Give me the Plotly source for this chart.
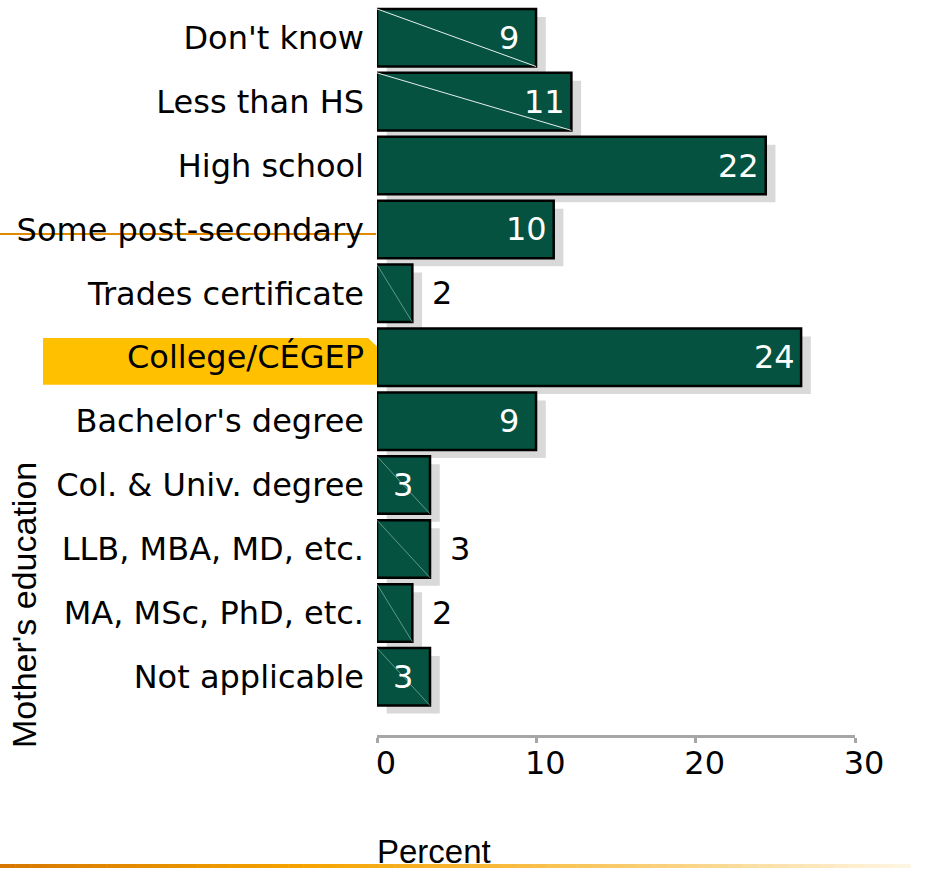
import plotly.graph_objects as go

# Mother's education distribution (percent of respondents)
categories = [
    "Don't know", "Less than HS", "High school", "Some post-secondary",
    "Trades certificate", "College/CÉGEP", "Bachelor's degree",
    "Col. & Univ. degree", "LLB, MBA, MD, etc.", "MA, MSc, PhD, etc.",
    "Not applicable",
]
percent = [9, 11, 22, 10, 2, 24, 9, 3, 3, 2, 3]
axis_ticks = [0, 10, 20, 30]
highlight = "College/CÉGEP"

# per-bar styling: where the value label sits, and the thin diagonal sheen
label_outside = [False, False, False, False, True, False, False, False, True, True, False]
diag_style = ["strong", "strong", None, None, "faint", None, None, "faint", "faint", "faint", "faint"]

BAR = "#055241"
SHADOW = "#d9d9d9"
FONT = "DejaVu Sans"
ARIAL = "Liberation Sans"

W, H = 928, 869
L, R, T, B = 377, 73, 0, 134
plot_w = W - L - R
plot_h = H - T - B

pos = list(range(len(categories)))
bar_range = [0, 27.05]

fig = go.Figure()

# drop shadow behind each bar
fig.add_trace(go.Bar(
    y=[p + 0.125 for p in pos], x=percent, base=0.55, orientation="h",
    width=0.9, marker=dict(color=SHADOW, line=dict(width=0)),
    hoverinfo="skip", showlegend=False,
))
# main bars
fig.add_trace(go.Bar(
    y=pos, x=percent, orientation="h", width=0.9,
    marker=dict(color=BAR, line=dict(color="black", width=2.5)),
    showlegend=False, name="Percent",
))

# diagonal sheen lines across some bars
for style, level in (("strong", "rgba(255,255,255,0.9)"), ("faint", "rgba(170,210,200,0.55)")):
    xs, ys = [], []
    for p, v, d in zip(pos, percent, diag_style):
        if d == style:
            xs += [0, v, None]
            ys += [p - 0.45, p + 0.45, None]
    fig.add_trace(go.Scatter(
        x=xs, y=ys, mode="lines", line=dict(color=level, width=1),
        hoverinfo="skip", showlegend=False,
    ))

# invisible trace that carries the visible percent axis
fig.add_trace(go.Scatter(x=[axis_ticks[0], axis_ticks[-1]], y=[0, 0], xaxis="x2",
                         mode="markers", marker=dict(opacity=0), hoverinfo="skip",
                         showlegend=False))

annotations = []
for p, v, out in zip(pos, percent, label_outside):
    annotations.append(dict(
        x=v, y=p, xref="x", yref="y", text=str(v), showarrow=False,
        xanchor="center", yanchor="middle", xshift=30 if out else -27,
        font=dict(family=FONT, size=32, color="black" if out else "white"),
    ))

def px_x(px):
    return (px - L) / plot_w

def px_y(py):
    return (H - B - py) / plot_h

annotations.append(dict(
    x=px_x(24), y=px_y(605), xref="paper", yref="paper", text="Mother's education",
    textangle=-90, showarrow=False, xanchor="center", yanchor="middle",
    font=dict(family=ARIAL, size=34, color="black"),
))
annotations.append(dict(
    x=px_x(434), y=px_y(852), xref="paper", yref="paper", text="Percent",
    showarrow=False, xanchor="center", yanchor="middle",
    font=dict(family=ARIAL, size=33, color="black"),
))

shapes = []
# highlight tab behind the selected category
hi = categories.index(highlight)
x0, x1, xc = px_x(43), px_x(377), px_x(368)
y_top, y_bot = hi - 0.30, hi + 0.43
shapes.append(dict(
    type="path", xref="paper", yref="y", layer="below",
    path=f"M {x0},{y_top} L {xc},{y_top} L {x1},{y_top + 0.13} L {x1},{y_bot} L {x0},{y_bot} Z",
    fillcolor="#FFC000", line=dict(width=0),
))
# orange rule on the left
shapes.append(dict(
    type="line", xref="paper", yref="paper", layer="below",
    x0=px_x(0), x1=px_x(376), y0=px_y(234), y1=px_y(234),
    line=dict(color="#E08A00", width=2),
))
# fading rule along the bottom
stops = [(0, (214, 120, 0)), (300, (245, 163, 0)), (500, (248, 186, 60)),
         (700, (250, 214, 140)), (910, (254, 246, 228))]
n = 60
for k in range(n):
    a = 910 * k / n
    b = 910 * (k + 1) / n
    m = (a + b) / 2
    for (s0, c0), (s1, c1) in zip(stops[:-1], stops[1:]):
        if s0 <= m <= s1:
            t = (m - s0) / (s1 - s0)
            c = tuple(round(c0[i] + (c1[i] - c0[i]) * t) for i in range(3))
            break
    shapes.append(dict(
        type="line", xref="paper", yref="paper",
        x0=px_x(a), x1=px_x(b + 0.5), y0=px_y(866), y1=px_y(866),
        line=dict(color=f"rgb{c}", width=4),
    ))

fig.update_layout(
    width=W, height=H,
    margin=dict(l=L, r=R, t=T, b=B, pad=0),
    paper_bgcolor="white", plot_bgcolor="white",
    barmode="overlay",
    xaxis=dict(range=bar_range, visible=False, fixedrange=True),
    xaxis2=dict(
        range=[axis_ticks[0], axis_ticks[-1]], overlaying="x", side="bottom",
        anchor="y", tickvals=axis_ticks, ticktext=[str(t) for t in axis_ticks],
        showline=True, linecolor="#a6a6a6", linewidth=3,
        ticks="outside", tickcolor="#a6a6a6", tickwidth=3, ticklen=5,
        showgrid=False, zeroline=False, ticklabelstandoff=-7, ticklabelshift=9,
        tickfont=dict(family=FONT, size=32, color="black"),
    ),
    yaxis=dict(
        range=[10.91, -0.59], tickvals=pos, ticktext=categories,
        showline=False, showgrid=False, zeroline=False, ticks="",
        ticklabelstandoff=12,
        tickfont=dict(family=FONT, size=32, color="black"),
    ),
    annotations=annotations,
    shapes=shapes,
)

fig.write_html("out.html")
